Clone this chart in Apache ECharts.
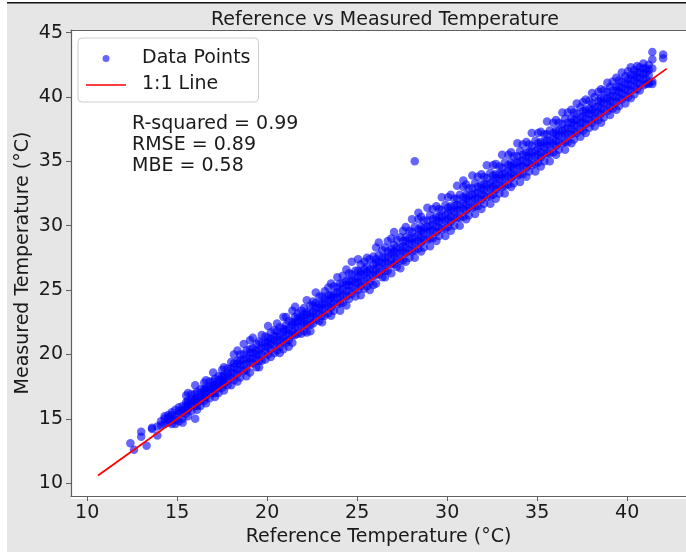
<!DOCTYPE html>
<html>
<head>
<meta charset="utf-8">
<title>Reference vs Measured Temperature</title>
<script src="https://cdn.jsdelivr.net/npm/echarts@6/dist/echarts.min.js"></script>
<style>
  html, body { margin: 0; padding: 0; background: #ffffff; }
  #chart { width: 686px; height: 552px; }
</style>
</head>
<body>
<div id="chart"></div>
<script>
// Each row: [reference temperature, measured readings taken at that reference...]
const readings12to18 = [
  [12.4, 13.1], [12.6, 12.6], [13.0, 13.6, 14.0], [13.3, 12.9], [13.6, 14.2, 14.3],
  [13.9, 13.7, 14.4], [14.1, 14.8, 14.5], [14.3, 14.6, 15.0, 15.2], [14.5, 14.7, 15.3, 14.9, 15.1],
  [14.7, 15.0, 15.5, 14.6, 15.3], [14.9, 15.2, 15.7, 14.9, 14.6], [15.1, 15.4, 15.9, 14.8, 15.6],
  [15.3, 14.7, 15.0, 15.4, 15.7, 16.0], [15.5, 15.4, 15.7, 16.0, 16.3, 16.8],
  [15.6, 15.2, 15.7, 15.9, 16.2, 16.4, 17.0], [15.8, 15.6, 16.0, 16.3, 16.5, 16.9],
  [16.0, 15.0, 16.0, 16.4, 16.6, 16.9, 17.6], [16.1, 15.7, 16.0, 16.4, 16.6, 17.1],
  [16.3, 16.0, 16.4, 16.7, 17.0, 17.3], [16.5, 16.4, 16.7, 17.0, 17.3, 17.8],
  [16.6, 16.2, 16.7, 16.9, 17.2, 17.4, 18.0], [16.8, 16.6, 17.0, 17.3, 17.5, 17.9],
  [17.0, 17.0, 17.4, 17.6, 17.9, 18.6], [17.1, 16.7, 17.0, 17.4, 17.6, 18.1],
  [17.3, 17.0, 17.4, 17.7, 18.0, 18.3], [17.5, 17.4, 17.7, 18.0, 18.3, 18.8],
  [17.6, 17.2, 17.7, 17.9, 18.2, 18.4, 19.0], [17.8, 17.6, 18.0, 18.3, 18.5, 18.9]
];
const readings18to24 = [
  [18.0, 17.6, 18.2, 18.6, 18.9, 19.4], [18.15, 18.0, 18.5, 19.0, 19.3, 20.0],
  [18.35, 17.9, 18.5, 18.8, 19.3, 19.5, 20.3], [18.5, 18.2, 18.8, 19.2, 19.5, 20.0],
  [18.7, 18.7, 19.2, 19.6, 20.0, 20.8], [18.85, 18.3, 18.8, 19.3, 19.7, 20.3],
  [19.05, 18.6, 19.4, 19.7, 20.1, 20.4, 21.1], [19.2, 19.3, 19.7, 20.1, 20.5, 21.3],
  [19.4, 19.0, 19.6, 20.0, 20.3, 20.8], [19.55, 19.0, 19.5, 20.0, 20.4, 21.0],
  [19.7, 19.5, 20.0, 20.5, 20.9, 21.5], [19.9, 19.6, 20.2, 20.6, 20.9, 21.4],
  [20.05, 20.0, 20.6, 21.0, 21.3, 22.2], [20.2, 19.8, 20.4, 20.8, 21.2, 21.7],
  [20.4, 20.1, 20.7, 21.1, 21.4, 21.9], [20.55, 20.3, 20.9, 21.4, 21.8, 22.4],
  [20.7, 20.1, 20.6, 21.1, 21.5, 22.1], [20.9, 20.4, 21.0, 21.3, 21.8, 22.0, 22.9],
  [21.05, 20.9, 21.5, 21.9, 22.3, 22.9], [21.2, 20.6, 21.1, 21.6, 22.0, 22.6],
  [21.4, 20.9, 21.5, 21.8, 22.3, 22.5, 23.4], [21.55, 21.5, 22.1, 22.5, 22.9, 23.7],
  [21.7, 21.6, 22.1, 22.6, 22.8, 23.2], [21.9, 21.6, 22.2, 22.6, 22.9, 23.4],
  [22.05, 21.8, 22.4, 22.8, 23.1, 23.6], [22.2, 21.7, 22.3, 22.6, 23.1, 23.3, 24.2],
  [22.4, 21.8, 22.3, 22.8, 23.2, 23.8], [22.55, 22.4, 22.9, 23.3, 23.8, 24.1],
  [22.7, 22.7, 23.2, 23.6, 24.0, 24.8], [22.9, 22.6, 23.2, 23.6, 23.9, 24.5],
  [23.05, 22.5, 23.0, 23.5, 23.9, 24.5], [23.2, 23.0, 23.6, 24.0, 24.3, 24.9],
  [23.4, 23.2, 23.7, 24.2, 24.6, 25.2], [23.55, 23.0, 23.6, 23.9, 24.4, 24.6, 25.5],
  [23.7, 23.4, 24.0, 24.4, 24.7, 25.3], [23.9, 23.9, 24.4, 24.8, 25.2, 26.0]
];
const readings24to30 = [
  [24.05, 23.4, 24.0, 24.5, 24.9, 25.5], [24.2, 24.0, 24.6, 25.1, 25.5, 26.1],
  [24.4, 23.8, 24.5, 24.9, 25.4, 25.7, 26.6], [24.55, 24.3, 24.9, 25.4, 25.7, 26.3],
  [24.7, 24.7, 25.3, 25.7, 26.2, 27.2], [24.9, 24.5, 25.1, 25.6, 25.9, 26.5],
  [25.05, 25.0, 25.6, 26.0, 26.5, 27.4], [25.2, 24.6, 25.3, 25.6, 26.2, 26.4, 27.0],
  [25.4, 25.1, 25.7, 26.2, 26.6, 27.2], [25.55, 25.3, 25.9, 26.4, 26.8, 27.5],
  [25.7, 25.0, 25.6, 26.2, 26.6, 27.4], [25.9, 25.4, 26.1, 26.6, 27.0, 27.6],
  [26.05, 25.5, 26.2, 26.6, 27.1, 27.4, 28.3], [26.2, 26.2, 26.8, 27.2, 27.7, 28.7],
  [26.4, 26.0, 26.6, 27.1, 27.5, 28.1], [26.55, 26.0, 26.5, 27.1, 27.5, 28.3],
  [26.7, 26.5, 27.1, 27.6, 28.0, 28.8], [26.9, 26.3, 27.0, 27.4, 27.9, 28.2, 29.0],
  [27.05, 27.0, 27.6, 28.0, 28.5, 29.5], [27.2, 26.8, 27.4, 27.9, 28.3, 28.9],
  [27.4, 26.7, 27.3, 27.9, 28.3, 29.1], [27.55, 27.3, 27.9, 28.4, 28.8, 29.6],
  [27.7, 27.2, 27.9, 28.3, 28.8, 29.1, 29.9], [27.9, 27.5, 28.1, 28.6, 29.0, 29.6],
  [28.05, 28.0, 28.6, 29.0, 29.5, 30.5], [28.2, 27.5, 28.1, 28.7, 29.1, 29.9],
  [28.4, 28.2, 28.8, 29.3, 29.7, 30.5, 31.0], [28.55, 28.0, 28.7, 29.1, 29.6, 29.9, 30.7],
  [28.7, 28.3, 28.9, 29.4, 29.8, 30.4], [28.9, 28.9, 29.5, 29.9, 30.4, 31.4],
  [29.05, 28.4, 29.0, 29.6, 30.0, 30.8], [29.2, 29.0, 29.6, 30.1, 30.5, 31.3],
  [29.4, 28.8, 29.5, 29.9, 30.4, 30.7, 31.5], [29.55, 29.2, 29.8, 30.3, 30.7, 31.3],
  [29.7, 29.7, 30.3, 30.7, 31.2, 32.2], [29.9, 29.2, 29.8, 30.4, 30.8, 31.6]
];
const readings30to36 = [
  [30.05, 29.9, 30.5, 31.0, 31.4, 32.2], [30.2, 29.6, 30.3, 30.7, 31.2, 31.5, 32.4],
  [30.4, 30.0, 30.6, 31.1, 31.5, 32.1], [30.55, 30.6, 31.2, 31.6, 32.1, 33.1],
  [30.7, 30.0, 30.6, 31.2, 31.6, 32.4], [30.9, 30.7, 31.3, 31.8, 32.2, 33.0, 33.5],
  [31.05, 30.5, 31.2, 31.6, 32.1, 32.4, 33.2], [31.2, 30.8, 31.4, 31.9, 32.3, 32.9],
  [31.4, 31.4, 32.0, 32.4, 32.9, 33.9], [31.55, 30.9, 31.5, 32.1, 32.5, 33.3],
  [31.7, 31.5, 32.1, 32.6, 33.0, 33.8], [31.9, 31.3, 32.0, 32.4, 32.9, 33.2, 34.0],
  [32.05, 31.7, 32.3, 32.8, 33.2, 33.8], [32.2, 32.2, 32.8, 33.2, 33.7, 34.7],
  [32.4, 31.7, 32.3, 32.9, 33.3, 34.1], [32.55, 32.4, 33.0, 33.5, 33.9, 34.7],
  [32.7, 32.1, 32.8, 33.2, 33.7, 34.0, 34.8], [32.9, 32.5, 33.1, 33.6, 34.0, 34.6],
  [33.05, 33.0, 33.6, 34.0, 34.5, 35.5], [33.2, 32.5, 33.1, 33.7, 34.1, 34.9],
  [33.4, 33.2, 33.8, 34.3, 34.7, 35.5], [33.55, 33.0, 33.7, 34.1, 34.6, 34.9, 35.7],
  [33.7, 33.3, 33.9, 34.4, 34.8, 35.4], [33.9, 33.9, 34.5, 34.9, 35.4, 36.4],
  [34.05, 33.4, 34.0, 34.6, 35.0, 35.8], [34.2, 34.0, 34.6, 35.1, 35.5, 36.3],
  [34.4, 33.8, 34.5, 34.9, 35.4, 35.7, 36.5], [34.55, 34.2, 34.8, 35.3, 35.7, 36.3],
  [34.7, 34.7, 35.3, 35.7, 36.2, 37.2], [34.9, 34.2, 34.8, 35.4, 35.8, 36.6],
  [35.05, 34.9, 35.5, 36.0, 36.4, 37.2], [35.2, 34.6, 35.3, 35.7, 36.2, 36.5, 37.3],
  [35.4, 35.0, 35.6, 36.1, 36.5, 37.1], [35.55, 35.6, 36.2, 36.6, 37.1, 38.1],
  [35.7, 35.0, 35.6, 36.2, 36.6, 37.4], [35.9, 35.7, 36.3, 36.8, 37.2, 38.0]
];
const readings36to43 = [
  [36.05, 35.5, 36.2, 36.6, 37.1, 37.4, 38.2], [36.2, 35.9, 36.5, 37.0, 37.4, 38.0],
  [36.4, 36.4, 37.0, 37.4, 37.9, 38.8], [36.55, 35.9, 36.5, 37.1, 37.5, 38.3],
  [36.7, 36.5, 37.1, 37.6, 38.0, 38.8], [36.9, 36.4, 37.1, 37.5, 38.0, 38.3, 39.0],
  [37.05, 36.7, 37.3, 37.8, 38.2, 38.8], [37.2, 37.2, 37.8, 38.2, 38.7, 39.5],
  [37.4, 36.9, 37.5, 38.0, 38.4, 39.2], [37.55, 37.4, 38.0, 38.5, 38.9, 39.6],
  [37.7, 37.2, 37.9, 38.3, 38.8, 39.0, 39.8], [37.9, 37.6, 38.2, 38.7, 39.1, 39.7],
  [38.05, 38.0, 38.6, 39.0, 39.5, 40.3], [38.2, 37.7, 38.3, 38.8, 39.2, 40.0],
  [38.4, 38.2, 38.8, 39.3, 39.7, 40.4], [38.55, 38.0, 38.7, 39.1, 39.6, 39.9, 40.6],
  [38.7, 38.4, 39.0, 39.5, 39.9, 40.5], [38.9, 38.9, 39.5, 39.9, 40.4, 41.1],
  [39.05, 38.6, 39.2, 39.7, 40.1, 40.8], [39.2, 39.1, 39.6, 40.1, 40.5, 41.2],
  [39.4, 39.0, 39.6, 40.0, 40.5, 40.8, 41.5], [39.55, 39.3, 39.9, 40.4, 40.8, 41.3],
  [39.7, 39.8, 40.3, 40.7, 41.2, 41.9], [39.9, 39.5, 40.1, 40.6, 41.0, 41.6],
  [40.05, 40.0, 40.5, 41.0, 41.4, 42.0], [40.2, 39.9, 40.5, 40.9, 41.4, 41.7, 42.3],
  [40.4, 40.2, 40.8, 41.3, 41.7, 42.1], [40.55, 40.6, 41.1, 41.5, 41.9, 42.4],
  [40.7, 40.5, 41.0, 41.5, 41.9, 42.3], [40.9, 40.9, 41.4, 41.8, 42.2, 42.6],
  [41.05, 41.0, 41.4, 41.9, 42.2], [41.2, 41.0, 41.1, 41.7, 42.1, 42.5],
  [41.4, 41.0, 41.2, 42.2, 42.9, 43.5], [42.0, 43.0, 43.3]
];
// Isolated reading away from the main band
const strayReadings = [[28.2, 35.0]];

// 1:1 reference line end points (same value on both axes)
const identityRange = [10.6, 42.2];

// Fit statistics
const stats = [['R-squared', '0.99'], ['RMSE', '0.89'], ['MBE', '0.58']];

// Axis tick labels
const xTicks = [10, 15, 20, 25, 30, 35, 40];
const yTicks = [10, 15, 20, 25, 30, 35, 40, 45];

const pointData = [];
[readings12to18, readings18to24, readings24to30, readings30to36, readings36to43].forEach(group => {
  group.forEach(row => {
    for (let i = 1; i < row.length; i++) pointData.push([row[0], row[i]]);
  });
});
strayReadings.forEach(p => pointData.push(p));

const lineData = identityRange.map(v => [v, v]);

const FONT = 'DejaVu Sans';
const TEXT = '#1a1a1a';
const SPINE = '#606060';

// Legend glyph for the line entry: a thin horizontal bar centred in the icon box
const LINE_ICON = 'path://M0,0L0.01,0L0.01,0.01Z M0,3.15L40,3.15L40,4.85L0,4.85Z M39.99,6.99L40,6.99L40,7Z';

const chart = echarts.init(document.getElementById('chart'), null, { renderer: 'canvas' });

chart.setOption({
  animation: false,
  backgroundColor: '#ffffff',
  title: {
    text: 'Reference vs Measured Temperature',
    left: 380,
    top: 6,
    textAlign: 'center',
    textStyle: { fontFamily: FONT, fontSize: 19, fontWeight: 'normal', color: TEXT }
  },
  graphic: [
    { type: 'rect', z: -10, silent: true, shape: { x: 7, y: 3, width: 679, height: 549 }, style: { fill: '#e6e6e6' } },
    { type: 'rect', z: -9, silent: true, shape: { x: 7, y: 2, width: 679, height: 1.5 }, style: { fill: '#111111' } },
    { type: 'rect', z: -8, silent: true, shape: { x: 71, y: 30, width: 615, height: 469 }, style: { fill: '#ffffff' } },
    {
      type: 'text', z: 10, left: 132, top: 114,
      style: {
        text: stats.map(s => s[0] + ' = ' + s[1]).join('\n'),
        fontFamily: FONT, fontSize: 19, lineHeight: 21, fill: TEXT
      }
    }
  ],
  legend: {
    orient: 'vertical',
    left: 78,
    top: 38,
    padding: [11, 8, 8, 8],
    itemWidth: 40,
    itemHeight: 7,
    itemGap: 7,
    backgroundColor: 'rgba(255,255,255,0.85)',
    borderColor: '#cccccc',
    borderWidth: 1,
    borderRadius: 4,
    textStyle: { fontFamily: FONT, fontSize: 19, lineHeight: 19, color: TEXT, padding: [0, 0, 0, 11] },
    data: [
      { name: 'Data Points', icon: 'circle' },
      { name: '1:1 Line', icon: LINE_ICON, itemStyle: { color: '#ff0000' } }
    ]
  },
  grid: { left: 71, right: 0, top: 30, bottom: 53, containLabel: false },
  xAxis: [
    {
      type: 'value', min: 9.1, max: 43.27, position: 'bottom',
      name: 'Reference Temperature (°C)', nameLocation: 'middle', nameGap: 32, nameMoveOverlap: false,
      nameTextStyle: { fontFamily: FONT, fontSize: 19, color: TEXT },
      axisLine: { show: true, lineStyle: { color: SPINE, width: 1.2 } },
      axisTick: { show: true, length: 5, lineStyle: { color: SPINE, width: 1 }, customValues: xTicks },
      axisLabel: { fontFamily: FONT, fontSize: 19, color: TEXT, margin: 8, customValues: xTicks },
      splitLine: { show: false }
    },
    {
      type: 'value', min: 9.1, max: 43.27, position: 'top',
      axisLine: { show: true, lineStyle: { color: SPINE, width: 1.2 } },
      axisTick: { show: false }, axisLabel: { show: false }, splitLine: { show: false }
    }
  ],
  yAxis: {
    type: 'value', min: 9.0, max: 45.2,
    name: 'Measured Temperature (°C)', nameLocation: 'middle', nameGap: 38, nameRotate: 90, nameMoveOverlap: false,
    nameTextStyle: { fontFamily: FONT, fontSize: 19, color: TEXT },
    axisLine: { show: true, lineStyle: { color: SPINE, width: 1.2 } },
    axisTick: { show: true, length: 5, lineStyle: { color: SPINE, width: 1 }, customValues: yTicks },
    axisLabel: { fontFamily: FONT, fontSize: 19, color: TEXT, margin: 8, customValues: yTicks },
    splitLine: { show: false }
  },
  series: [
    {
      name: 'Data Points',
      type: 'scatter',
      data: pointData,
      symbol: 'circle',
      symbolSize: 8.5,
      itemStyle: { color: 'rgba(0,0,255,0.75)' },
      z: 2
    },
    {
      name: '1:1 Line',
      type: 'line',
      data: lineData,
      symbol: 'none',
      lineStyle: { color: '#ff0000', width: 1.8 },
      itemStyle: { color: '#ff0000' },
      z: 3
    }
  ]
});
</script>
</body>
</html>
